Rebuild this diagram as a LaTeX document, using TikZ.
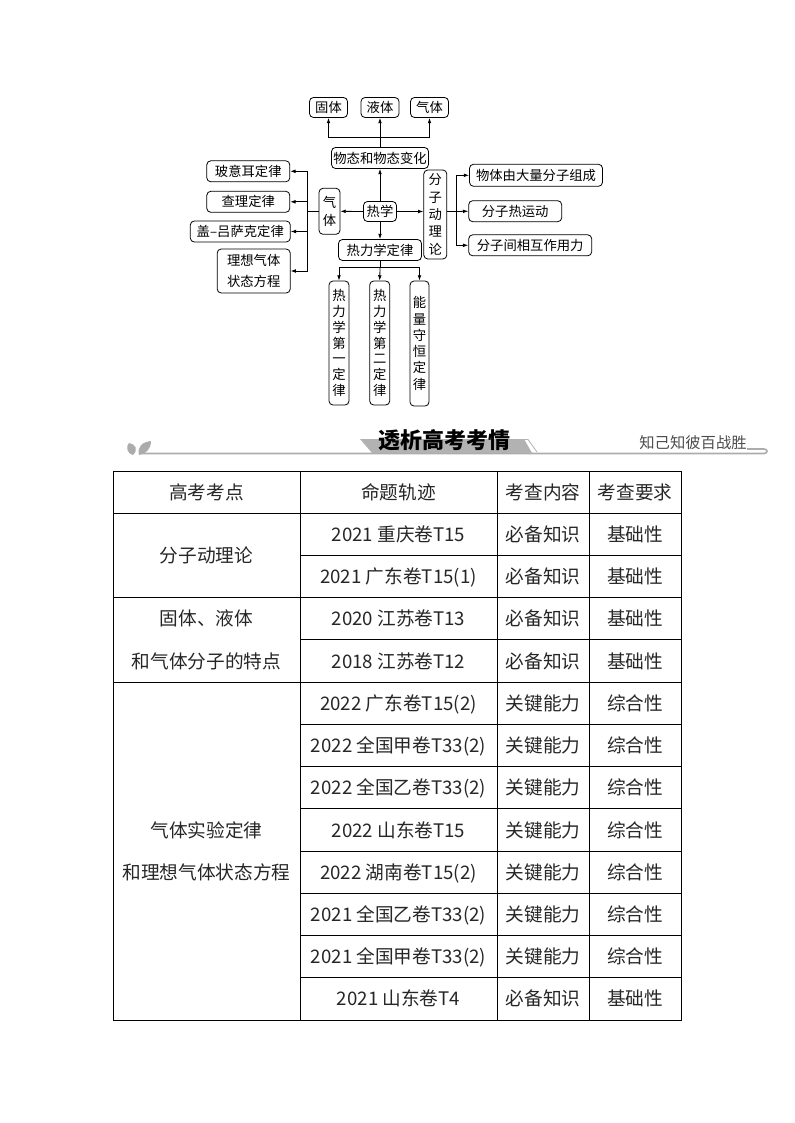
\documentclass[tikz,border=0pt]{standalone}
\usepackage{fontspec}
\setmainfont{Noto Sans CJK SC}
\usetikzlibrary{arrows.meta, calc}

\begin{document}
\begin{tikzpicture}[
    x=0.75pt, y=-0.75pt,
    box/.style={rectangle, rounded corners=3pt, draw, line width=0.6pt, inner sep=1pt, align=center, font=\fontsize{10}{13}\selectfont},
    arrow/.style={-{Latex[length=4pt,width=2.8pt]}, line width=0.6pt},
    link/.style={line width=0.6pt},
    cell/.style={font=\fontsize{14}{18}\selectfont, text=black!85, inner sep=0pt, text height=11.6pt, text depth=1pt},
    grid/.style={line width=0.7pt}
]
\useasboundingbox (0,0) rectangle (794,1123);

% Phases of matter
\node[box, minimum width=28.5pt, minimum height=15pt] (solid) at (328.5,107.5) {固体};
\node[box, minimum width=28.5pt, minimum height=15pt] (liquid) at (380,107.5) {液体};
\node[box, minimum width=28.5pt, minimum height=15pt] (gas) at (429.5,107.5) {气体};
\node[box, minimum width=72.75pt, minimum height=15.75pt] (phase) at (380,158) {物态和物态变化};

% Centre
\node[box, minimum width=24.75pt, minimum height=15pt] (heat) at (380,211.5) {热学};
\node[box, minimum width=15.75pt, minimum height=34.5pt, font=\fontsize{10}{13.7}\selectfont] (gaslaw) at (329.5,211.3) {气\\体};
\node[box, minimum width=17.25pt, minimum height=66.75pt] (kinetic) at (435.3,214.5) {分\\子\\动\\理\\论};
\node[box, minimum width=62.25pt, minimum height=15.75pt] (thermo) at (380,250) {热力学定律};

% Gas laws
\node[box, minimum width=62.25pt, minimum height=15.75pt] (boyle) at (248.3,171.3) {玻意耳定律};
\node[box, minimum width=62.25pt, minimum height=15.75pt] (charles) at (248.3,201.8) {查理定律};
\node[box, minimum width=75pt, minimum height=15.75pt] (gaylussac) at (240.3,231.5) {盖–吕萨克定律};
\node[box, minimum width=54.75pt, minimum height=33pt, font=\fontsize{10}{15.75}\selectfont] (ideal) at (253.7,271) {理想气体\\状态方程};

% Kinetic theory
\node[box, minimum width=99.75pt, minimum height=16.5pt] (molec) at (536,175.3) {物体由大量分子组成};
\node[box, minimum width=69.75pt, minimum height=15.75pt] (motion) at (515.2,211.2) {分子热运动};
\node[box, minimum width=92.25pt, minimum height=15.75pt] (force) at (530.2,245.3) {分子间相互作用力};

% Laws of thermodynamics
\node[box, minimum width=15pt, minimum height=93pt, font=\fontsize{10}{11.9}\selectfont] (first) at (339,343) {热\\力\\学\\第\\一\\定\\律};
\node[box, minimum width=15pt, minimum height=93pt, font=\fontsize{10}{11.9}\selectfont] (second) at (379.7,343) {热\\力\\学\\第\\二\\定\\律};
\node[box, minimum width=14.25pt, minimum height=93.75pt, font=\fontsize{10}{12.2}\selectfont] (energy) at (419.5,343.5) {能\\量\\守\\恒\\定\\律};

% Arrows
\coordinate (topbus) at (380,137);
\coordinate (leftbus) at (307.3,211.3);
\coordinate (rightbus) at (456.7,211.5);
\coordinate (lowbus) at (380,267.7);

\draw[link] (phase.north) -- (topbus);
\draw[arrow] (topbus) -| (solid.south);
\draw[arrow] (topbus) -- (liquid.south);
\draw[arrow] (topbus) -| (gas.south);
\draw[arrow] (heat.north) -- (phase.south);
\draw[arrow] (heat.west) -- (gaslaw.east);
\draw[arrow] (heat.east) -- (heat.east -| kinetic.west);
\draw[arrow] (heat.south) -- (thermo.north);

\draw[link] (gaslaw.west) -- (leftbus);
\draw[arrow] (leftbus) |- (boyle.east);
\draw[arrow] (leftbus) |- (charles.east);
\draw[arrow] (leftbus) |- (gaylussac.east);
\draw[arrow] (leftbus) |- (ideal.east);

\draw[link] (rightbus -| kinetic.east) -- (rightbus);
\draw[arrow] (rightbus) |- (molec.west);
\draw[arrow] (rightbus) -- (motion.west);
\draw[arrow] (rightbus) |- (force.west);

\draw[link] (thermo.south) -- (lowbus);
\draw[arrow] (lowbus) -| (first.north);
\draw[arrow] (lowbus) -- (second.north);
\draw[arrow] (lowbus) -| (energy.north);

% Title bar
\fill[gray!65] (133,455) .. controls (126,453) and (126,446) .. (129,443) .. controls (135,444) and (139,449) .. (133,455) -- cycle;
\fill[gray!65] (139,455) .. controls (137,447) and (142,442) .. (151,441) .. controls (151,449) and (146,454) .. (139,455) -- cycle;
\draw[gray!65, line width=1.2pt] (141,453.5) -- (764,453.5) .. controls (768,453.5) and (768,449) .. (764,449) -- (747,449);
\fill[gray!60] (360,439) -- (524,439) -- (532,453) -- (372,453) -- cycle;
\draw[gray!60, line width=0.6pt] (524,439.5) -- (528,439.5) -- (537,452);
\node[font=\fontsize{16.5}{18}\selectfont\bfseries, inner sep=0pt] (banner) at (444,440) {透析高考考情};
\node[font=\fontsize{11.5}{13}\selectfont, text=gray!60!black, inner sep=0pt] (motto) at (693,443) {知己知彼百战胜};

% Table
\draw[grid] (113,471) rectangle (681,1020);
\foreach \x in {300,497,589} \draw[grid] (\x,471) -- (\x,1020);
\foreach \k in {1,3,5} \draw[grid] (113,{471+42.23*\k}) -- (681,{471+42.23*\k});
\foreach \k in {2,4,6,7,8,9,10,11,12} \draw[grid] (300,{471+42.23*\k}) -- (681,{471+42.23*\k});

\node[cell] (head1) at (206.5,492) {高考考点};
\node[cell] (head2) at (398.5,492) {命题轨迹};
\node[cell] (head3) at (543,492) {考查内容};
\node[cell] (head4) at (635,492) {考查要求};

\node[cell] (topic1) at (206.5,555.3) {分子动理论};
\node[cell] (topic2a) at (206.5,618.8) {固体、液体};
\node[cell] (topic2b) at (206.5,661) {和气体分子的特点};
\node[cell] (topic3a) at (206.5,830) {气体实验定律};
\node[cell] (topic3b) at (206.5,872.2) {和理想气体状态方程};

\foreach \src/\kind/\level [count=\r] in {
    2021 重庆卷T15/必备知识/基础性,
    2021 广东卷T15(1)/必备知识/基础性,
    2020 江苏卷T13/必备知识/基础性,
    2018 江苏卷T12/必备知识/基础性,
    2022 广东卷T15(2)/关键能力/综合性,
    2022 全国甲卷T33(2)/关键能力/综合性,
    2022 全国乙卷T33(2)/关键能力/综合性,
    2022 山东卷T15/关键能力/综合性,
    2022 湖南卷T15(2)/关键能力/综合性,
    2021 全国乙卷T33(2)/关键能力/综合性,
    2021 全国甲卷T33(2)/关键能力/综合性,
    2021 山东卷T4/必备知识/基础性} {
  \node[cell] (src\r) at (398.5,{471+42.23*(\r+0.5)}) {\src};
  \node[cell] (kind\r) at (543,{471+42.23*(\r+0.5)}) {\kind};
  \node[cell] (level\r) at (635,{471+42.23*(\r+0.5)}) {\level};
}
\end{tikzpicture}
\end{document}
